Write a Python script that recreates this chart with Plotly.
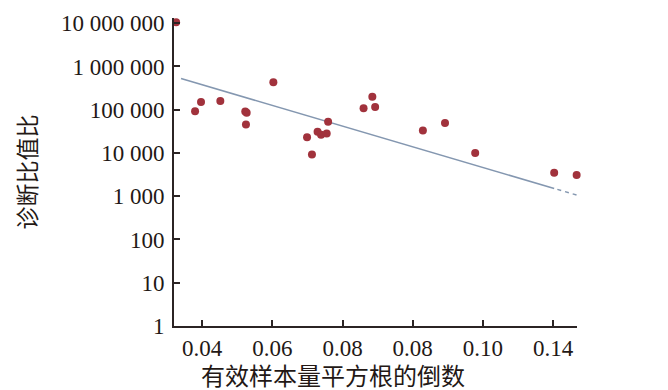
import plotly.graph_objects as go

# Data
inv_sqrt_ess = [0.0326, 0.0380, 0.0397, 0.0452, 0.0523, 0.0527, 0.0525, 0.0603,
                0.0699, 0.0713, 0.0729, 0.0739, 0.0755, 0.0759, 0.0860, 0.0885,
                0.0893, 0.1029, 0.1092, 0.1178, 0.1403, 0.1467]
log_dor = [7.02, 4.965, 5.18, 5.20, 4.96, 4.93, 4.66, 5.635,
           4.365, 3.965, 4.49, 4.42, 4.45, 4.72, 5.035, 5.30,
           5.065, 4.52, 4.695, 4.00, 3.54, 3.49]
dor = [10 ** v for v in log_dor]

# Regression line (log10 DOR = intercept + slope * x)
fit_intercept = 6.533
fit_slope = -23.9
fit_x_solid = [0.0340, 0.1403]
fit_x_dashed = [0.1412, 0.1468]

y_tickvals = [1, 10, 100, 1000, 10000, 100000, 1000000, 10000000]
y_ticktext = ["1", "10", "100", "1 000", "10 000", "100 000", "1 000 000", "10 000 000"]
x_tickvals = [0.04, 0.06, 0.08, 0.10, 0.12, 0.14]
x_ticktext = ["0.04", "0.06", "0.08", "0.08", "0.10", "0.14"]

x_title = "有效样本量平方根的倒数"
y_title = "诊断比值比"


def fit(xs):
    return [10 ** (fit_intercept + fit_slope * x) for x in xs]


line_color = "#8497b0"
marker_color = "#a1323c"
axis_color = "#2b2424"
text_color = "#231815"

fig = go.Figure()
fig.add_trace(go.Scatter(x=fit_x_solid, y=fit(fit_x_solid), mode="lines",
                         line=dict(color=line_color, width=1.5), hoverinfo="skip"))
fig.add_trace(go.Scatter(x=fit_x_dashed, y=fit(fit_x_dashed), mode="lines",
                         line=dict(color=line_color, width=1.5, dash="4px,4px"), hoverinfo="skip"))
fig.add_trace(go.Scatter(x=inv_sqrt_ess, y=dor, mode="markers",
                         marker=dict(color=marker_color, size=8), cliponaxis=False))

num_font = dict(family="Liberation Serif, Times New Roman, serif", size=23, color=text_color)
cjk_font = dict(family="Noto Sans CJK SC", size=24, color=text_color)

fig.update_layout(
    width=660, height=382,
    margin=dict(l=166, r=91, t=10, b=64, autoexpand=False),
    paper_bgcolor="white", plot_bgcolor="white",
    showlegend=False,
    xaxis=dict(
        range=[0.032, 0.1468], automargin=False,
        tickvals=x_tickvals, ticktext=x_ticktext,
        ticks="inside", ticklen=6, tickwidth=2, tickcolor=axis_color,
        showline=True, linecolor=axis_color, linewidth=2,
        showgrid=False, zeroline=False,
        tickfont=num_font,
    ),
    yaxis=dict(
        type="log", range=[0, 7.12], automargin=False,
        tickvals=y_tickvals, ticktext=y_ticktext,
        ticks="inside", ticklen=6, tickwidth=2, tickcolor=axis_color,
        ticklabelstandoff=3,
        showline=True, linecolor=axis_color, linewidth=2,
        showgrid=False, zeroline=False,
        tickfont=num_font,
        title=dict(text=y_title, font=dict(family="Noto Sans CJK SC", size=23, color=text_color), standoff=18),
    ),
    annotations=[dict(
        text=x_title, font=cjk_font, showarrow=False,
        xref="paper", yref="paper", x=0.3945, y=0,
        xanchor="center", yanchor="middle", yshift=-48, borderpad=0,
    )],
)

fig.write_html("out.html")
